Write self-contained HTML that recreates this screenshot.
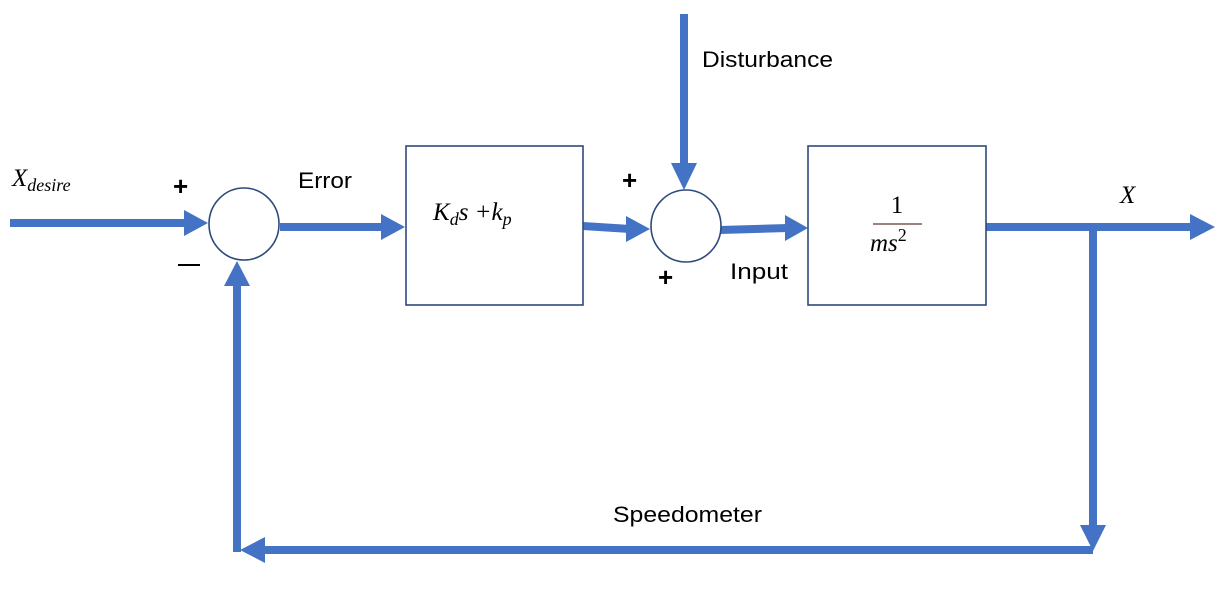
<!DOCTYPE html>
<html><head><meta charset="utf-8"><style>
html,body{margin:0;padding:0;background:#fff;}
svg{display:block;}
.t{font-family:"Liberation Sans",sans-serif;font-size:22px;fill:#000;}
.m{font-family:"Liberation Serif",serif;font-style:italic;fill:#000;}
.p{font-family:"Liberation Sans",sans-serif;font-size:26px;font-weight:bold;fill:#000;}
</style></head><body>
<svg width="1228" height="608" viewBox="0 0 1228 608" xmlns="http://www.w3.org/2000/svg">
<g stroke="#4472C4" stroke-width="8" fill="none">
<line x1="10" y1="223" x2="186" y2="223"/>
<line x1="280" y1="227" x2="384" y2="227"/>
<line x1="583" y1="226" x2="630" y2="229"/>
<line x1="684" y1="14" x2="684" y2="166"/>
<line x1="720" y1="230" x2="788" y2="228"/>
<line x1="986" y1="227" x2="1192" y2="227"/>
<line x1="1093" y1="227" x2="1093" y2="527"/>
<line x1="1093" y1="550" x2="262" y2="550"/>
<line x1="237" y1="552" x2="237" y2="284"/>
</g>
<g fill="#4472C4">
<polygon points="184,210 208,223 184,236"/>
<polygon points="381,214 405,227 381,240"/>
<polygon points="626,216 650,229 626,242"/>
<polygon points="671,163 697,163 684,190"/>
<polygon points="785,215 808,228 785,241"/>
<polygon points="1190,214 1215,227 1190,240"/>
<polygon points="1080,525 1106,525 1093,551"/>
<polygon points="265,537 240,550 265,563"/>
<polygon points="224,286 250,286 237,261"/>
</g>
<g stroke="#2F4A7A" stroke-width="1.6" fill="#fff">
<ellipse cx="244" cy="224" rx="35" ry="36"/>
<ellipse cx="686" cy="226" rx="35" ry="36"/>
<rect x="406" y="146" width="177" height="159"/>
<rect x="808" y="146" width="178" height="159"/>
</g>
<text class="t" x="702" y="67" textLength="131" lengthAdjust="spacingAndGlyphs">Disturbance</text>
<text class="t" x="298" y="188" textLength="54" lengthAdjust="spacingAndGlyphs">Error</text>
<text class="t" x="730" y="279" textLength="58" lengthAdjust="spacingAndGlyphs">Input</text>
<text class="t" x="613" y="522" textLength="149" lengthAdjust="spacingAndGlyphs">Speedometer</text>
<text class="p" x="173" y="195">+</text>
<text class="p" x="622" y="189">+</text>
<text class="p" x="658" y="286">+</text>
<line x1="178" y1="265" x2="200" y2="265" stroke="#000" stroke-width="2"/>
<text class="m" x="12" y="186" font-size="25">X<tspan font-size="18" dy="5">desire</tspan></text>
<text class="m" x="433" y="220" font-size="25">K<tspan font-size="18" dy="5">d</tspan><tspan dy="-5">s +k</tspan><tspan font-size="18" dy="5">p</tspan></text>
<text class="m" x="1120" y="203" font-size="25">X</text>
<text x="897" y="213" font-family="Liberation Serif,serif" font-size="25" text-anchor="middle">1</text>
<line x1="873" y1="224" x2="922" y2="224" stroke="#7a5a55" stroke-width="1.5"/>
<text class="m" x="870" y="251" font-size="25">ms<tspan font-style="normal" font-size="18" dy="-10">2</tspan></text>
</svg>
</body></html>
